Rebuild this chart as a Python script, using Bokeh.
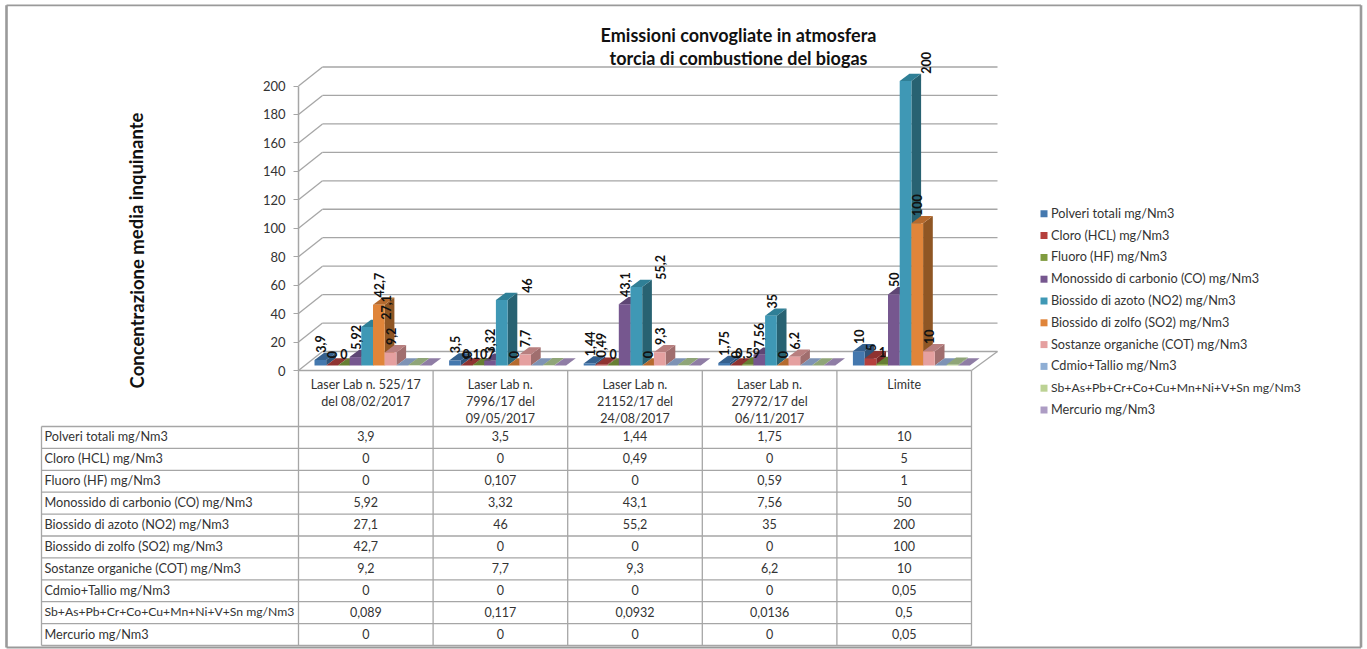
from bokeh.core.properties import value
from bokeh.embed import file_html
from bokeh.models import FixedTicker, LinearAxis, Range1d
from bokeh.plotting import figure
from bokeh.resources import INLINE

WIDTH, HEIGHT = 1367, 649

title_lines = ["Emissioni convogliate in atmosfera", "torcia di combustione del biogas"]
y_title = "Concentrazione media inquinante"
categories = [
    ["Laser Lab n. 525/17", "del 08/02/2017"],
    ["Laser Lab n.", "7996/17 del", "09/05/2017"],
    ["Laser Lab n.", "21152/17 del", "24/08/2017"],
    ["Laser Lab n.", "27972/17 del", "06/11/2017"],
    ["Limite"],
]
series_names = [
    "Polveri totali mg/Nm3",
    "Cloro (HCL) mg/Nm3",
    "Fluoro (HF) mg/Nm3",
    "Monossido di carbonio (CO) mg/Nm3",
    "Biossido di azoto (NO2) mg/Nm3",
    "Biossido di zolfo (SO2) mg/Nm3",
    "Sostanze organiche (COT) mg/Nm3",
    "Cdmio+Tallio mg/Nm3",
    "Sb+As+Pb+Cr+Co+Cu+Mn+Ni+V+Sn mg/Nm3",
    "Mercurio mg/Nm3",
]
polveri = [3.9, 3.5, 1.44, 1.75, 10]
cloro = [0, 0, 0.49, 0, 5]
fluoro = [0, 0.107, 0, 0.59, 1]
monossido = [5.92, 3.32, 43.1, 7.56, 50]
azoto = [27.1, 46, 55.2, 35, 200]
zolfo = [42.7, 0, 0, 0, 100]
organiche = [9.2, 7.7, 9.3, 6.2, 10]
cadmio_tallio = [0, 0, 0, 0, 0.05]
metalli = [0.089, 0.117, 0.0932, 0.0136, 0.5]
mercurio = [0, 0, 0, 0, 0.05]
series_values = [polveri, cloro, fluoro, monossido, azoto, zolfo, organiche,
                 cadmio_tallio, metalli, mercurio]
y_ticks = list(range(0, 201, 20))

# front, top and side face colours of each series
front_colors = ["#4478AE", "#B5403D", "#7F9B3F", "#76578F", "#3F98B5", "#E0853A",
                "#E5A0A0", "#8FAED4", "#BCD294", "#AD9CC4"]
top_colors = ["#35608E", "#8F3331", "#677F33", "#5E4674", "#2F7F96", "#B56A2E",
              "#B87F7F", "#7E93B5", "#8FA578", "#8F7DA5"]
side_colors = ["#2E5379", "#7A2B29", "#57692B", "#4E3A61", "#286272", "#8F5624",
               "#A06E6E", "#6F82A0", "#7E9169", "#7E6E92"]
GRID = "#A6A6A6"
FRAME = "#9A9A9A"
INK = "#333333"
FONT = "Lato"

# Pixel geometry of the projection
CAT_LEFT, CAT_RIGHT = 298.0, 971.0
ZERO_Y, TOP_Y = 370.0, 85.5
WALL_DX, WALL_DY = 25.0, 19.0
BAR_W, BAR_DX, BAR_DY = 11.7, 9.7, 7.3
BAR_BASE_LIFT = 5.0
BAR_INSET = 16.0

PX_PER_CAT = (CAT_RIGHT - CAT_LEFT) / len(categories)
PX_PER_VAL = (ZERO_Y - TOP_Y) / 200.0


def data_x(px):
    return (px - CAT_LEFT) / PX_PER_CAT


def data_y(py):
    return (ZERO_Y - py) / PX_PER_VAL


p = figure(
    width=WIDTH, height=HEIGHT, output_backend="svg", toolbar_location=None,
    x_range=Range1d(data_x(0), data_x(WIDTH)), y_range=Range1d(data_y(HEIGHT), data_y(0)),
    min_border=0, outline_line_color=None, x_axis_location=None, y_axis_location=None,
)
p.grid.visible = False


def rule(x0, y0, x1, y1, color=GRID, width=1.3):
    p.line([data_x(x0), data_x(x1)], [data_y(y0), data_y(y1)], line_color=color, line_width=width)


def label(x, y, text, size=12.2, color=INK, align="center", baseline="middle", angle=0.0, style="normal"):
    p.text([data_x(x)], [data_y(y)], text=[text], text_font=value(FONT), text_font_size=f"{size}px",
           text_color=color, text_align=align, text_baseline=baseline, angle=angle,
           text_font_style=style)


def name_size(name):
    # the long metals row is set a little tighter so it stays inside its cell
    return 12.2 if name.startswith("Sb+") else 12.7


# outer picture frame, heavier on the left and right
rule(6, 4.8, 1360.5, 4.8, FRAME, 1.8)
rule(6, 647, 1360.5, 647, FRAME, 2.2)
rule(6, 4.8, 6, 647, FRAME, 2.6)
rule(1360.5, 4.8, 1360.5, 647, FRAME, 2.6)

# back wall and side wall
for tick in y_ticks:
    front = ZERO_Y - tick * PX_PER_VAL
    rule(CAT_LEFT, front, CAT_LEFT + WALL_DX - 1, front - WALL_DY)
    rule(CAT_LEFT + WALL_DX - 1, front - WALL_DY, 997, front - WALL_DY)
rule(CAT_RIGHT, ZERO_Y, 997, ZERO_Y - WALL_DY)
rule(CAT_LEFT, ZERO_Y, CAT_RIGHT, ZERO_Y)

# real value axis, pinned to the front-left corner of the floor
axis = LinearAxis(
    fixed_location=0, ticker=FixedTicker(ticks=y_ticks), bounds=(0, 200),
    axis_line_color=GRID, axis_line_width=1.5, major_tick_line_color=GRID, major_tick_out=5,
    major_tick_in=0, minor_tick_line_color=None, major_label_text_font=FONT,
    major_label_text_font_size="13px", major_label_text_color=INK, major_label_standoff=8,
)
p.add_layout(axis, "left")

# bars, drawn left to right so later fronts cover earlier sides
for c in range(len(categories)):
    for s, vals in enumerate(series_values):
        v = vals[c]
        left = data_x(CAT_LEFT + BAR_INSET + c * PX_PER_CAT + s * BAR_W)
        w = BAR_W / PX_PER_CAT
        dx = BAR_DX / PX_PER_CAT
        dy = BAR_DY / PX_PER_VAL
        base = BAR_BASE_LIFT / PX_PER_VAL
        top = base + v
        p.patch([left + w, left + w + dx, left + w + dx, left + w],
                [base, base + dy, top + dy, top], fill_color=side_colors[s], line_color=None)
        p.patch([left, left + w, left + w + dx, left + dx],
                [top, top, top + dy, top + dy], fill_color=top_colors[s], line_color=None)
        p.quad(left=left, right=left + w, bottom=base, top=top, fill_color=front_colors[s], line_color=None)

# data labels for the first seven series; the Fluoro ones stay horizontal
LABEL_DX = {(0, 4): 25, (1, 4): 31, (2, 4): 30, (3, 4): 7, (4, 4): 26}
for c in range(len(categories)):
    for s in range(7):
        v = series_values[s][c]
        text = f"{v:g}".replace(".", ",")
        left = CAT_LEFT + BAR_INSET + c * PX_PER_CAT + s * BAR_W
        top_px = ZERO_Y - BAR_BASE_LIFT - v * PX_PER_VAL - BAR_DY
        x = left + LABEL_DX.get((c, s), 6)
        if s == 2:
            label(x, top_px + 0.5, text, baseline="bottom", color="#111111", size=12.5, style="bold")
        else:
            label(x, top_px, text, align="left", angle=1.5708, color="#111111", size=12.5, style="bold")

# category header and data table
COL_X = [CAT_LEFT + i * PX_PER_CAT for i in range(len(categories) + 1)]
ROW_TOP, ROW_H, TABLE_LEFT = 426.0, 21.9, 41.0
for x in COL_X:
    rule(x, ZERO_Y, x, ROW_TOP + ROW_H * len(series_names))
rule(TABLE_LEFT, ROW_TOP, TABLE_LEFT, ROW_TOP + ROW_H * len(series_names))
for r in range(len(series_names) + 1):
    y = ROW_TOP + r * ROW_H
    rule(TABLE_LEFT, y, CAT_RIGHT, y)
for c, lines in enumerate(categories):
    for i, line in enumerate(lines):
        label(COL_X[c] + PX_PER_CAT / 2, 383.5 + 17 * i, line, size=12.5)
for r, name in enumerate(series_names):
    cy = ROW_TOP + (r + 0.5) * ROW_H - 1
    label(TABLE_LEFT + 3, cy, name, align="left", size=name_size(name))
    for c in range(len(categories)):
        label(COL_X[c] + PX_PER_CAT / 2, cy, f"{series_values[r][c]:g}".replace(".", ","), size=12.5)

# legend
for r, name in enumerate(series_names):
    cy = 213.3 + r * 21.8
    p.quad(left=data_x(1040), right=data_x(1047), bottom=data_y(cy + 3.5), top=data_y(cy - 3.5),
           fill_color=front_colors[r], line_color=None)
    label(1050.5, cy - 1, name, align="left", size=name_size(name))

# titles
label(738, 34, title_lines[0], size=18, color="#111111", style="bold")
label(738, 57, title_lines[1], size=18, color="#111111", style="bold")
label(136, 250, y_title, size=18.5, color="#111111", style="bold", angle=1.5708)

open("out.html", "w").write(file_html(p, INLINE))
